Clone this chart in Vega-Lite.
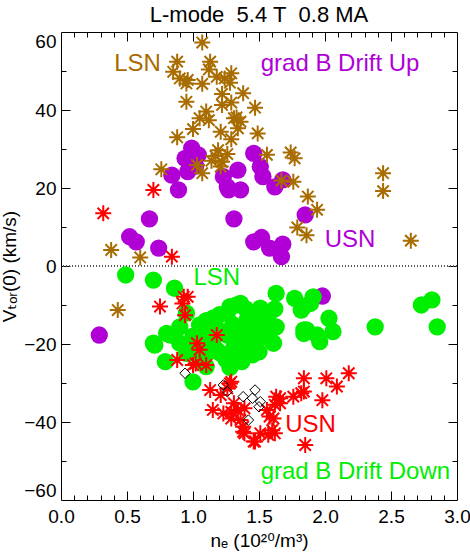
{
  "$schema": "https://vega.github.io/schema/vega-lite/v6.json",
  "autosize": "none",
  "width": 396,
  "height": 468,
  "padding": {"left": 61, "top": 32, "right": 13, "bottom": 52},
  "background": "white",
  "title": {"text": "L-mode\u00a0\u00a05.4 T\u00a0\u00a00.8 MA", "fontSize": 22, "fontWeight": "normal", "font": "Liberation Sans", "color": "black", "offset": 4, "anchor": "middle"},
  "config": {
    "view": {"stroke": "black", "strokeWidth": 1},
    "axis": {"grid": false, "domain": false, "tickColor": "black", "tickWidth": 1, "labelColor": "black", "titleColor": "black", "labelFont": "Liberation Sans", "titleFont": "Liberation Sans, DejaVu Sans", "labelFontSize": 19, "titleFontSize": 19, "titleFontWeight": "normal"}
  },
  "datasets": {
    "brown": [
      {"x":1.07,"y":57.3},{"x":0.88,"y":52.4},{"x":1.13,"y":52.4},{"x":0.85,"y":49.8},{"x":1.12,"y":50.4},{"x":0.90,"y":48.1},{"x":0.96,"y":47.7},{"x":0.95,"y":46.8},{"x":1.07,"y":46.7},{"x":1.18,"y":48.5},{"x":1.24,"y":48.1},{"x":1.29,"y":49.4},{"x":1.28,"y":47.0},{"x":0.95,"y":42.1},{"x":1.22,"y":44.1},{"x":1.38,"y":44.3},{"x":1.22,"y":41.3},{"x":1.29,"y":41.9},{"x":1.47,"y":40.6},{"x":1.10,"y":39.6},{"x":1.05,"y":37.9},{"x":1.12,"y":37.4},{"x":1.31,"y":37.9},{"x":1.33,"y":38.1},{"x":1.36,"y":37.0},{"x":1.00,"y":35.1},{"x":1.21,"y":34.4},{"x":1.34,"y":35.3},{"x":1.49,"y":34.0},{"x":0.88,"y":33.0},{"x":1.29,"y":32.5},{"x":1.19,"y":29.7},{"x":1.17,"y":28.2},{"x":1.26,"y":28.7},{"x":1.14,"y":27.0},{"x":1.22,"y":26.7},{"x":1.56,"y":28.5},{"x":1.74,"y":29.1},{"x":1.77,"y":27.6},{"x":0.76,"y":24.8},{"x":1.03,"y":25.9},{"x":1.07,"y":23.8},{"x":1.21,"y":25.5},{"x":1.67,"y":21.9},{"x":1.76,"y":21.6},{"x":1.87,"y":17.8},{"x":1.94,"y":14.4},{"x":1.79,"y":9.9},{"x":1.86,"y":7.9},{"x":2.65,"y":6.5},{"x":0.60,"y":2.2},{"x":0.38,"y":4.1},{"x":0.43,"y":-11.3},{"x":2.44,"y":23.8},{"x":2.44,"y":19.2}
    ],
    "purple": [
      {"x":0.99,"y":30.2},{"x":0.94,"y":27.6},{"x":1.04,"y":28.5},{"x":0.84,"y":23.3},{"x":0.96,"y":24.2},{"x":0.89,"y":19.5},{"x":1.02,"y":25.6},{"x":1.23,"y":22.9},{"x":1.34,"y":24.6},{"x":1.26,"y":20.3},{"x":1.36,"y":19.5},{"x":1.27,"y":19.5},{"x":1.46,"y":28.9},{"x":1.51,"y":25.5},{"x":1.53,"y":22.9},{"x":1.62,"y":20.3},{"x":1.68,"y":22.1},{"x":1.85,"y":13.1},{"x":0.67,"y":12.1},{"x":1.31,"y":12.1},{"x":0.52,"y":7.5},{"x":0.57,"y":6.2},{"x":0.74,"y":4.6},{"x":1.46,"y":6.2},{"x":1.52,"y":7.3},{"x":1.58,"y":4.6},{"x":1.68,"y":5.6},{"x":1.67,"y":2.4},{"x":0.29,"y":-17.7},{"x":1.98,"y":-7.7}
    ],
    "green": [
      {"x":0.49,"y":-2.3},{"x":0.70,"y":-3.6},{"x":0.86,"y":-5.7},{"x":0.95,"y":-12.1},{"x":1.63,"y":-7.0},{"x":1.77,"y":-8.3},{"x":1.84,"y":-10.4},{"x":1.36,"y":-9.6},{"x":1.28,"y":-10.4},{"x":1.51,"y":-10.8},{"x":1.15,"y":-13.4},{"x":1.63,"y":-15.6},{"x":1.84,"y":-16.4},{"x":0.70,"y":-19.8},{"x":0.80,"y":-17.3},{"x":0.90,"y":-15.6},{"x":1.05,"y":-15.1},{"x":1.26,"y":-12.1},{"x":1.41,"y":-13.8},{"x":1.53,"y":-18.1},{"x":1.91,"y":-7.9},{"x":1.82,"y":-11.3},{"x":1.89,"y":-9.6},{"x":1.86,"y":-16.4},{"x":1.94,"y":-17.7},{"x":1.96,"y":-19.4},{"x":2.03,"y":-13.4},{"x":2.06,"y":-16.8},{"x":2.38,"y":-15.6},{"x":2.73,"y":-10.0},{"x":2.81,"y":-8.7},{"x":2.85,"y":-15.6},{"x":1.43,"y":-16.0},{"x":1.58,"y":-18.5},{"x":0.71,"y":-20.3},{"x":0.79,"y":-24.5},{"x":1.00,"y":-29.7},{"x":0.90,"y":-19.8},{"x":1.08,"y":-20.7},{"x":1.10,"y":-25.8},{"x":0.95,"y":-22.4},{"x":1.31,"y":-20.7},{"x":1.37,"y":-24.5},{"x":1.45,"y":-22.8},{"x":1.21,"y":-22.4},{"x":1.61,"y":-19.8},{"x":1.26,"y":-17.7},{"x":1.10,"y":-17.7},{"x":0.83,"y":-17.7},{"x":1.84,"y":-17.3},{"x":1.18,"y":-21.5},{"x":1.35,"y":-18.0},{"x":1.40,"y":-20.0},{"x":1.50,"y":-22.0},{"x":1.30,"y":-15.0},{"x":1.20,"y":-17.0},{"x":1.45,"y":-13.0},{"x":1.55,"y":-15.0},{"x":1.40,"y":-11.0},
      {"x":1.00,"y":-18.0},{"x":1.15,"y":-19.0},{"x":1.25,"y":-24.0},{"x":1.33,"y":-22.0},{"x":1.42,"y":-17.0},{"x":1.50,"y":-14.0},{"x":1.58,"y":-12.0},{"x":1.20,"y":-12.5},{"x":1.10,"y":-14.0},{"x":0.98,"y":-22.0},{"x":1.05,"y":-24.0},{"x":1.48,"y":-19.0},{"x":1.38,"y":-15.5},{"x":1.33,"y":-10.0},{"x":1.62,"y":-11.0},{"x":1.18,"y":-16.0},{"x":1.28,"y":-26.0},{"x":1.12,"y":-22.0}
    ],
    "red": [
      {"x":0.70,"y":19.5},{"x":0.32,"y":13.5},{"x":0.84,"y":2.4},{"x":0.75,"y":-10.4},{"x":0.93,"y":-7.9},{"x":0.96,"y":-7.9},{"x":0.92,"y":-9.6},{"x":0.94,"y":-12.6},{"x":1.18,"y":-17.7},{"x":0.88,"y":-24.1},{"x":1.03,"y":-19.8},{"x":1.05,"y":-21.5},{"x":1.00,"y":-25.4},{"x":1.10,"y":-25.4},{"x":1.02,"y":-25.0},{"x":1.13,"y":-31.8},{"x":1.21,"y":-33.1},{"x":1.29,"y":-29.7},{"x":1.26,"y":-31.4},{"x":1.28,"y":-30.1},{"x":1.31,"y":-35.2},{"x":1.15,"y":-36.9},{"x":1.23,"y":-37.8},{"x":1.29,"y":-37.4},{"x":1.36,"y":-39.5},{"x":1.39,"y":-36.5},{"x":1.34,"y":-36.9},{"x":1.29,"y":-39.1},{"x":1.38,"y":-41.2},{"x":1.39,"y":-42.9},{"x":1.38,"y":-42.5},{"x":1.47,"y":-45.0},{"x":1.51,"y":-42.9},{"x":1.56,"y":-36.9},{"x":1.61,"y":-39.1},{"x":1.60,"y":-42.1},{"x":1.57,"y":-43.3},{"x":1.63,"y":-33.5},{"x":1.66,"y":-35.2},{"x":1.76,"y":-33.5},{"x":1.84,"y":-32.2},{"x":1.84,"y":-28.8},{"x":1.85,"y":-45.9},{"x":2.01,"y":-28.8},{"x":2.18,"y":-27.5},{"x":2.09,"y":-30.9},{"x":1.98,"y":-34.4},{"x":1.82,"y":-32.6},{"x":1.66,"y":-33.9},{"x":1.62,"y":-35.6},{"x":1.58,"y":-38.6},{"x":1.62,"y":-42.9},{"x":1.46,"y":-45.0}
    ],
    "diamond": [
      {"x":0.94,"y":-27.5},{"x":1.23,"y":-30.5},{"x":1.26,"y":-32.2},{"x":1.38,"y":-33.5},{"x":1.47,"y":-31.8},{"x":1.45,"y":-33.9},{"x":1.51,"y":-34.8},{"x":1.50,"y":-36.1},{"x":1.42,"y":-39.5}
    ],
    "labels": [
      {"x":0.58,"y":50.1,"label":"LSN","group":"upper LSN"},
      {"x":2.114,"y":50.1,"label":"grad B Drift Up","group":"upper drift"},
      {"x":2.19,"y":5.0,"label":"USN","group":"upper USN"},
      {"x":1.18,"y":-4.9,"label":"LSN","group":"lower LSN"},
      {"x":1.89,"y":-42.5,"label":"USN","group":"lower USN"},
      {"x":2.23,"y":-54.7,"label":"grad B Drift Down","group":"lower drift"}
    ]
  },
  "resolve": {"axis": {"x": "independent", "y": "independent"}},
  "layer": [
    {
      "data": {"name": "labels"},
      "mark": {"type": "rule", "strokeDash": [1, 2], "color": "#555555", "strokeWidth": 1},
      "encoding": {
        "y": {"datum": 0, "type": "quantitative", "scale": {"domain": [-60, 60], "nice": false, "zero": false}, "axis": null}
      }
    },
    {
      "data": {"name": "purple"},
      "mark": {"type": "point", "shape": "circle", "filled": true, "size": 300, "color": "#b000d6", "opacity": 1},
      "encoding": {
        "x": {"field": "x", "type": "quantitative", "scale": {"domain": [0, 3], "nice": false, "zero": false},
              "axis": {"orient": "bottom", "values": [0, 0.5, 1, 1.5, 2, 2.5, 3], "format": ".1f", "ticks": false, "labelPadding": 7, "labelFlush": false, "title": "nₑ (10²⁰/m³)", "titlePadding": 5}},
        "y": {"field": "y", "type": "quantitative", "scale": {"domain": [-60, 60], "nice": false, "zero": false},
              "axis": {"orient": "left", "values": [-60, -40, -20, 0, 20, 40, 60], "format": "d", "ticks": false, "labelPadding": 5, "labelFlush": true, "title": "Vₜₒᵣ(0) (km/s)", "titlePadding": 4}}
      }
    },
    {
      "data": {"name": "green"},
      "mark": {"type": "point", "shape": "circle", "filled": true, "size": 300, "color": "#00ee00", "opacity": 1},
      "encoding": {
        "x": {"field": "x", "type": "quantitative", "scale": {"domain": [0, 3], "nice": false, "zero": false},
              "axis": {"orient": "bottom", "values": [0.5, 1, 1.5, 2, 2.5], "labels": false, "tickSize": -9, "title": null}},
        "y": {"field": "y", "type": "quantitative", "scale": {"domain": [-60, 60], "nice": false, "zero": false},
              "axis": {"orient": "left", "values": [-40, -20, 0, 20, 40], "labels": false, "tickSize": -9, "title": null}}
      }
    },
    {
      "data": {"name": "brown"},
      "mark": {"type": "point", "shape": "M0,-1L0,1M-1,0L1,0M-0.71,-0.71L0.71,0.71M-0.71,0.71L0.71,-0.71", "filled": false, "size": 256, "color": "#a86c00", "strokeWidth": 2, "opacity": 1},
      "encoding": {
        "x": {"field": "x", "type": "quantitative", "scale": {"domain": [0, 3], "nice": false, "zero": false},
              "axis": {"orient": "bottom", "values": [0.1, 0.2, 0.3, 0.4, 0.6, 0.7, 0.8, 0.9, 1.1, 1.2, 1.3, 1.4, 1.6, 1.7, 1.8, 1.9, 2.1, 2.2, 2.3, 2.4, 2.6, 2.7, 2.8, 2.9], "labels": false, "tickSize": -5, "title": null}},
        "y": {"field": "y", "type": "quantitative", "scale": {"domain": [-60, 60], "nice": false, "zero": false},
              "axis": {"orient": "left", "values": [-50, -30, -10, 10, 30, 50], "labels": false, "tickSize": -5, "title": null}}
      }
    },
    {
      "data": {"name": "red"},
      "mark": {"type": "point", "shape": "M0,-1L0,1M-1,0L1,0M-0.71,-0.71L0.71,0.71M-0.71,0.71L0.71,-0.71", "filled": false, "size": 256, "color": "#ff0000", "strokeWidth": 2, "opacity": 1},
      "encoding": {
        "x": {"field": "x", "type": "quantitative", "scale": {"domain": [0, 3], "nice": false, "zero": false},
              "axis": {"orient": "top", "values": [0.5, 1, 1.5, 2, 2.5], "labels": false, "tickSize": -9, "title": null}},
        "y": {"field": "y", "type": "quantitative", "scale": {"domain": [-60, 60], "nice": false, "zero": false},
              "axis": {"orient": "right", "values": [-40, -20, 0, 20, 40], "labels": false, "tickSize": -9, "title": null}}
      }
    },
    {
      "data": {"name": "diamond"},
      "mark": {"type": "point", "shape": "diamond", "filled": false, "size": 110, "color": "black", "strokeWidth": 1, "opacity": 1},
      "encoding": {
        "x": {"field": "x", "type": "quantitative", "scale": {"domain": [0, 3], "nice": false, "zero": false},
              "axis": {"orient": "top", "values": [0.1, 0.2, 0.3, 0.4, 0.6, 0.7, 0.8, 0.9, 1.1, 1.2, 1.3, 1.4, 1.6, 1.7, 1.8, 1.9, 2.1, 2.2, 2.3, 2.4, 2.6, 2.7, 2.8, 2.9], "labels": false, "tickSize": -5, "title": null}},
        "y": {"field": "y", "type": "quantitative", "scale": {"domain": [-60, 60], "nice": false, "zero": false},
              "axis": {"orient": "right", "values": [-50, -30, -10, 10, 30, 50], "labels": false, "tickSize": -5, "title": null}}
      }
    },
    {
      "data": {"name": "labels"},
      "mark": {"type": "text", "fontSize": 24, "font": "Liberation Sans", "align": "center", "baseline": "alphabetic"},
      "encoding": {
        "x": {"field": "x", "type": "quantitative", "scale": {"domain": [0, 3], "nice": false, "zero": false}, "axis": null},
        "y": {"field": "y", "type": "quantitative", "scale": {"domain": [-60, 60], "nice": false, "zero": false}, "axis": null},
        "text": {"field": "label"},
        "color": {"field": "group", "type": "nominal", "legend": null,
                  "scale": {"domain": ["upper LSN", "upper drift", "upper USN", "lower LSN", "lower USN", "lower drift"], "range": ["#a86c00", "#b000d6", "#b000d6", "#00ee00", "#ff0000", "#00ee00"]}}
      }
    }
  ]
}
